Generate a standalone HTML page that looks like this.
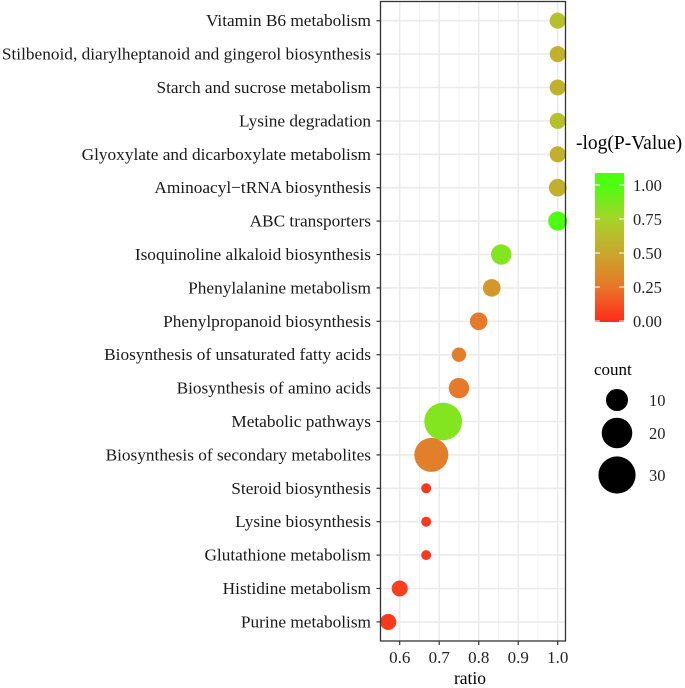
<!DOCTYPE html>
<html><head><meta charset="utf-8"><style>
html,body{margin:0;padding:0;background:#fff}
svg{display:block;font-family:"Liberation Serif",serif}
</style></head><body>
<svg id="chart" width="685" height="688" viewBox="0 0 685 688">
<defs>
<linearGradient id="cbar" x1="0" y1="1" x2="0" y2="0">
<stop offset="0" stop-color="#ff2b1a"/><stop offset="0.23" stop-color="#e9752a"/>
<stop offset="0.46" stop-color="#c8a72c"/><stop offset="0.69" stop-color="#a8d22a"/>
<stop offset="0.92" stop-color="#4cff10"/><stop offset="1" stop-color="#4cff10"/>
</linearGradient>
</defs>
<g id="grid"></g><g id="points"></g><g id="axes"></g>
<g>
<text x="576" y="149" font-size="19.5">-log(P-Value)</text>
<rect x="595" y="173" width="29" height="149" fill="url(#cbar)"/>
<g id="cbticks"></g>
</g>
<g>
<text x="594" y="375" font-size="17">count</text>
<g id="sizeleg"></g>
</g>
<text x="470" y="684" font-size="17.5" text-anchor="middle">ratio</text>
</svg>
<script>
const categories=["Vitamin B6 metabolism","Stilbenoid, diarylheptanoid and gingerol biosynthesis","Starch and sucrose metabolism","Lysine degradation","Glyoxylate and dicarboxylate metabolism","Aminoacyl\u2212tRNA biosynthesis","ABC transporters","Isoquinoline alkaloid biosynthesis","Phenylalanine metabolism","Phenylpropanoid biosynthesis","Biosynthesis of unsaturated fatty acids","Biosynthesis of amino acids","Metabolic pathways","Biosynthesis of secondary metabolites","Steroid biosynthesis","Lysine biosynthesis","Glutathione metabolism","Histidine metabolism","Purine metabolism"];
const ratios=[1.0,1.0,1.0,1.0,1.0,1.0,1.0,0.857,0.833,0.8,0.75,0.75,0.71,0.68,0.667,0.667,0.667,0.6,0.571];
const counts=[4,4,4,4,4,5,6,7,5,5,3,7,26,21,1,1,1,4,4];
const pvals=[0.65,0.55,0.55,0.65,0.55,0.55,1.05,0.85,0.42,0.28,0.3,0.28,0.85,0.3,0.05,0.05,0.05,0.07,0.05];
const xTicks=[0.6,0.7,0.8,0.9,1.0];
const xTickLabels=["0.6","0.7","0.8","0.9","1.0"];
const cbTicks=[0,0.25,0.5,0.75,1.0];
const cbTickLabels=["0.00","0.25","0.50","0.75","1.00"];
const sizeLegend=[10,20,30];

const NS="http://www.w3.org/2000/svg";
const L=380.5,R=565.5,T=1.5,B=641;
const x=v=>399.7+(v-0.6)*395;
const y=i=>20.7+i*33.4;
const r=c=>Math.sqrt(11.8+13.2*c);
const cbY=v=>321-v*136;
const stops=[[0,[255,43,26]],[0.25,[233,117,42]],[0.5,[200,167,44]],[0.75,[168,210,42]],[1,[76,255,16]]];
function col(v){v=Math.max(0,Math.min(1,v));for(let i=1;i<stops.length;i++){if(v<=stops[i][0]){const a=stops[i-1],b=stops[i],t=(v-a[0])/(b[0]-a[0]);return "rgb("+a[1].map((c,k)=>Math.round(c+(b[1][k]-c)*t)).join(",")+")";}}return "rgb(76,255,16)";}
function mk(tag,at,parent){const e=document.createElementNS(NS,tag);for(const k in at)e.setAttribute(k,at[k]);parent.appendChild(e);return e;}
const grid=document.getElementById('grid'),pts=document.getElementById('points'),axes=document.getElementById('axes');
const bg=mk('rect',{x:L,y:T,width:R-L,height:B-T,fill:'#fff'},grid);


[0.55,0.65,0.75,0.85,0.95].forEach(v=>{const g=mk('line',{x1:x(v),x2:x(v),y1:T,y2:B,stroke:'#f2f2f2','stroke-width':1},grid);

});
xTicks.forEach((v,i)=>{const g=mk('line',{x1:x(v),x2:x(v),y1:T,y2:B,stroke:'#ebebeb','stroke-width':1.6},grid);


mk('line',{x1:x(v),x2:x(v),y1:B,y2:B+4,stroke:'#333','stroke-width':1.2},axes);
const t=mk('text',{x:x(v),y:663,'font-size':17,'text-anchor':'middle',fill:'#222'},axes);t.textContent=xTickLabels[i];

});
categories.forEach((c,i)=>{const g=mk('line',{x1:L,x2:R,y1:y(i),y2:y(i),stroke:'#ebebeb','stroke-width':1.6},grid);


mk('line',{x1:L-4,x2:L,y1:y(i),y2:y(i),stroke:'#333','stroke-width':1.2},axes);
const t=mk('text',{x:371,y:y(i)+5.5,'font-size':17.3,'text-anchor':'end',fill:'#1a1a1a'},axes);t.textContent=c;


const p=mk('circle',{cx:x(ratios[i]),cy:y(i),r:r(counts[i]),fill:col(pvals[i])},pts);

});
const fr=mk('rect',{x:L,y:T,width:R-L,height:B-T,fill:'none',stroke:'#333','stroke-width':1.3},axes);


const cbt=document.getElementById('cbticks');
cbTicks.forEach((v,i)=>{mk('line',{x1:595,x2:600,y1:cbY(v),y2:cbY(v),stroke:'#fff','stroke-width':1},cbt);
mk('line',{x1:619,x2:624,y1:cbY(v),y2:cbY(v),stroke:'#fff','stroke-width':1},cbt);
const t=mk('text',{x:633,y:cbY(v)+6,'font-size':16.5,fill:'#222'},cbt);t.textContent=cbTickLabels[i];

});
const sl=document.getElementById('sizeleg');const sy=[400,433,475];
sizeLegend.forEach((c,i)=>{const e=mk('circle',{cx:617,cy:sy[i],r:r(c)*0.92,fill:'#000'},sl);


const t=mk('text',{x:649,y:sy[i]+6,'font-size':16.5,fill:'#222'},sl);t.textContent=c;

});
</script>
</body></html>
